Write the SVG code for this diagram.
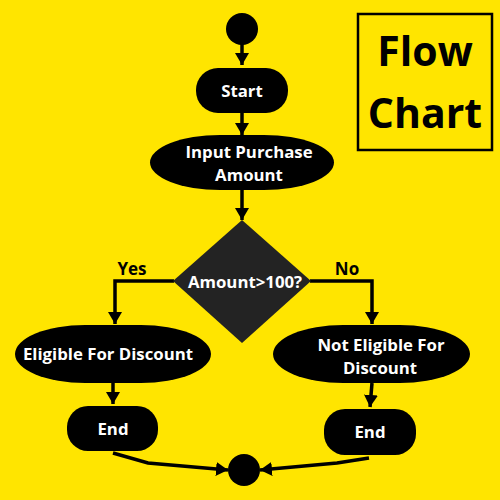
<svg xmlns="http://www.w3.org/2000/svg" width="500" height="500" viewBox="0 0 500 500">
<defs>
<marker id="ah" markerUnits="userSpaceOnUse" markerWidth="16" markerHeight="14" refX="12" refY="7" orient="auto">
<path d="M0,0 L12,7 L0,14 Z" fill="#000"/>
</marker>
<style>
.sh{fill:#000}
.t{font-family:"Open Sans","Liberation Sans",sans-serif;font-weight:bold;font-size:16.8px;fill:#fff;text-anchor:middle}
.lbl{font-family:"Open Sans","Liberation Sans",sans-serif;font-weight:bold;font-size:17px;fill:#000;text-anchor:middle}
.c{fill:none;stroke:#000;stroke-width:3.5;marker-end:url(#ah)}
.ti{font-family:"Open Sans","Liberation Sans",sans-serif;font-weight:bold;font-size:41px;fill:#000;text-anchor:middle}
</style>
</defs>
<rect width="500" height="500" fill="#FFE500"/>
<g id="title">
<rect x="358" y="14" width="134" height="136" fill="none" stroke="#000" stroke-width="2.5"/>
<text x="425" y="66" class="ti">Flow</text>
<text x="425" y="128" class="ti">Chart</text>
</g>
<g id="connectors">
<path class="c" d="M242,44 V65"/>
<path class="c" d="M242,113 V135"/>
<path class="c" d="M242,190 V220"/>
<path class="c" d="M174,281 H115 V324"/>
<path class="c" d="M310,281 H372 V324"/>
<path class="c" d="M113,383 V404"/>
<path class="c" d="M372,383 L370,407"/>
<path class="c" d="M113,453 L148,463 L228,470"/>
<path class="c" d="M369,458 L337,463 L260,470"/>
</g>
<g id="startCircle"><circle cx="242" cy="29" r="16" class="sh"/></g>
<g id="start">
<rect x="196" y="68" width="92" height="45" rx="22" class="sh"/>
<text x="242" y="97" class="t">Start</text>
</g>
<g id="input">
<rect x="150" y="135" width="184" height="55" rx="70" ry="27.5" class="sh"/>
<text x="249" y="158" class="t">Input Purchase</text>
<text x="249" y="181" class="t">Amount</text>
</g>
<g id="decision">
<polygon points="242,220 311,281 242,343 173,281" fill="#232323"/>
<text x="245" y="288" class="t">Amount&gt;100?</text>
</g>
<text x="132" y="275" class="lbl">Yes</text>
<text x="347" y="275" class="lbl">No</text>
<g id="eligible">
<rect x="15" y="325" width="196" height="58" rx="70" ry="29" class="sh"/>
<text x="108" y="360" class="t">Eligible For Discount</text>
</g>
<g id="notEligible">
<rect x="273" y="325" width="197" height="58" rx="70" ry="29" class="sh"/>
<text x="381" y="351" class="t">Not Eligible For</text>
<text x="380" y="374" class="t">Discount</text>
</g>
<g id="endLeft">
<rect x="67" y="406" width="91" height="45" rx="21" class="sh"/>
<text x="113" y="435" class="t">End</text>
</g>
<g id="endRight">
<rect x="324" y="409" width="92" height="46" rx="21" class="sh"/>
<text x="370" y="438" class="t">End</text>
</g>
<g id="endCircle"><circle cx="244" cy="470" r="16" class="sh"/></g>
</svg>
